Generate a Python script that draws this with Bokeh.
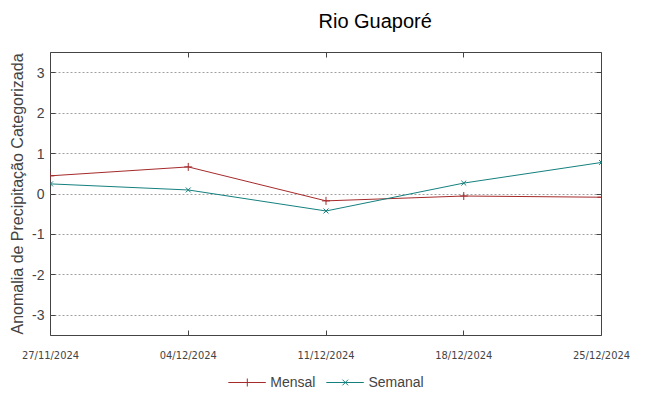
from datetime import datetime
from bokeh.plotting import figure
from bokeh.layouts import column
from bokeh.models import (LinearAxis, FixedTicker, DatetimeTickFormatter,
                          Range1d, Legend, LegendItem, Label)
from bokeh.embed import file_html
from bokeh.resources import INLINE

title_text = "Rio Guaporé"
dates = ["27/11/2024", "04/12/2024", "11/12/2024", "18/12/2024", "25/12/2024"]
mensal = [0.45, 0.67, -0.17, -0.05, -0.08]
semanal = [0.25, 0.10, -0.42, 0.27, 0.78]
yticks = [-3, -2, -1, 0, 1, 2, 3]
ytick_labels = ["-3", "-2", "-1", "0", "1", "2", "3"]
series_names = ["Mensal", "Semanal"]

x = [datetime.strptime(d, "%d/%m/%Y") for d in dates]
xms = [d.timestamp() * 1000 for d in x]

RED = "#a52a2a"
TEAL = "#14807e"
FONT = "Liberation Sans"

# title strip
t = figure(width=649, height=36, output_backend="svg", toolbar_location=None,
           x_range=Range1d(0, 1), y_range=Range1d(0, 1),
           min_border=0, outline_line_color=None)
t.axis.visible = False
t.grid.visible = False
t.add_layout(Label(x=268, y=16, x_units="screen", y_units="screen", text=title_text,
                   text_align="left", text_baseline="middle",
                   text_font=FONT, text_font_size="20px", text_color="#000000"))

p = figure(width=649, height=331, output_backend="svg", toolbar_location=None,
           x_axis_type="datetime", x_range=Range1d(x[0], x[-1]),
           y_range=Range1d(-3.5, 3.5),
           min_border_left=50, min_border_right=48, min_border_top=16, min_border_bottom=32)

p.outline_line_color = "#444444"
p.outline_line_width = 1
p.background_fill_color = "white"
p.border_fill_color = "white"

p.xgrid.visible = False
p.ygrid.ticker = FixedTicker(ticks=yticks)
p.ygrid.grid_line_color = "#a0a0a0"
p.ygrid.grid_line_dash = "2 2"

xa = p.xaxis[0]
xa.ticker = FixedTicker(ticks=xms)
xa.formatter = DatetimeTickFormatter(days="%d/%m/%Y", months="%d/%m/%Y", years="%d/%m/%Y")
xa.major_label_text_font = "DejaVu Sans Condensed"
xa.major_label_text_font_size = "11px"
xa.major_label_standoff = 13
xa.axis_line_color = None
xa.major_tick_in = 5
xa.major_tick_out = 0
xa.minor_tick_line_color = None
xa.major_tick_line_color = "#444444"

ya = p.yaxis[0]
ya.ticker = FixedTicker(ticks=yticks)
ya.major_label_overrides = dict(zip(yticks, ytick_labels))
ya.major_label_text_font = FONT
ya.major_label_text_font_size = "14px"
ya.major_label_standoff = 6
ya.axis_line_color = None
ya.major_tick_in = 5
ya.major_tick_out = 0
ya.minor_tick_line_color = None
ya.major_tick_line_color = "#444444"
ya.axis_label = "Anomalia de Precipitação Categorizada"
ya.axis_label_text_font = FONT
ya.axis_label_text_font_size = "16px"
ya.axis_label_text_font_style = "normal"
ya.axis_label_standoff = 3

ra = LinearAxis(ticker=FixedTicker(ticks=yticks),
                major_label_overrides={t_: "" for t_ in yticks},
                major_label_standoff=0,
                axis_line_color=None, major_tick_in=5, major_tick_out=0,
                minor_tick_line_color=None, major_tick_line_color="#444444")
p.add_layout(ra, "right")
ta = LinearAxis(ticker=FixedTicker(ticks=xms),
                major_label_overrides={t_: "" for t_ in xms},
                major_label_standoff=0,
                axis_line_color=None, major_tick_in=5, major_tick_out=0,
                minor_tick_line_color=None, major_tick_line_color="#444444")
p.add_layout(ta, "above")

p.line(x, mensal, line_color=RED, line_width=1)
p.scatter(x, mensal, marker="cross", size=8, line_color=RED, line_width=1)
p.line(x, semanal, line_color=TEAL, line_width=1)
p.scatter(x, semanal, marker="x", size=7, line_color=TEAL, line_width=1)

# legend strip below the chart (its renderers use the same data, but lie outside its ranges)
q = figure(width=649, height=29, output_backend="svg", toolbar_location=None,
           x_range=Range1d(0, 1), y_range=Range1d(0, 1),
           min_border=0, outline_line_color=None)
q.axis.visible = False
q.grid.visible = False
k1 = q.line(xms, mensal, line_color=RED, line_width=1)
k1m = q.scatter(xms, mensal, marker="cross", size=8, line_color=RED, line_width=1)
k2 = q.line(xms, semanal, line_color=TEAL, line_width=1)
k2m = q.scatter(xms, semanal, marker="x", size=7, line_color=TEAL, line_width=1)
legend = Legend(items=[LegendItem(label=series_names[0], renderers=[k1, k1m]),
                       LegendItem(label=series_names[1], renderers=[k2, k2m])],
                orientation="horizontal", location="center",
                label_text_font=FONT, label_text_font_size="14px",
                glyph_width=38, border_line_color=None, background_fill_alpha=0,
                padding=0, margin=0, spacing=10)
q.add_layout(legend, "center")

open("out.html", "w").write(file_html(column(t, p, q, spacing=0), INLINE))
